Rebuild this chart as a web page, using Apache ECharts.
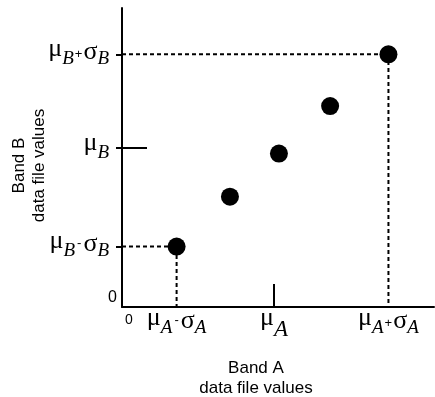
<!DOCTYPE html>
<html>
<head>
<meta charset="utf-8">
<script src="https://cdn.jsdelivr.net/npm/echarts@6/dist/echarts.min.js"></script>
<style>
html,body{margin:0;padding:0;background:#fff;}
#chart{width:435px;height:397px;}
</style>
</head>
<body>
<div id="chart"></div>
<script>
// Data points (Band A value, Band B value)
const pointX = [17.5, 34.6, 50.3, 66.7, 85.4];
const pointY = [20.2, 36.9, 51.3, 67.2, 84.5];

// Tick positions and labels
const muA = 48.7;
const muB = 53.1;
const xTickValues = [0, pointX[0], muA, pointX[4]];
const xTickLabels = [
  '{zx|0}',
  '{m|μ}{s|A}{d|-}{g|σ}{s|A}',
  '{m|μ}{S|A}',
  '{m|μ}{s|A}{p|+}{g|σ}{s|A}'
];
const yTickValues = [0, pointY[0], muB, pointY[4]];
const yTickLabels = [
  '{zy|0}',
  '{m|μ}{s|B}{d|-}{g|σ}{e|B}',
  '{m|μ}{e|B}',
  '{m|μ}{s|B}{p|+}{g|σ}{e|B}'
];
const xTitle = 'Band A\ndata file values';
const yTitle = 'Band B\ndata file values';

const SERIF = 'Liberation Serif';
const SANS = 'Liberation Sans';

function richStyles(isY) {
  return {
    m: { fontFamily: SERIF, fontSize: 26, color: '#000', padding: [0, 0, 10, 0] },
    g: { fontFamily: SERIF, fontSize: 26, color: '#000', padding: [0, 0, 4, 0] },
    s: { fontFamily: SERIF, fontStyle: 'italic', fontSize: 19, color: '#000', padding: [9, 0, 0, 0] },
    e: { fontFamily: SERIF, fontStyle: 'italic', fontSize: 19, color: '#000', padding: [9, isY ? 8 : 0, 0, 0] },
    S: { fontFamily: SERIF, fontStyle: 'italic', fontSize: 23, color: '#000', padding: [14, 0, 0, 0] },
    p: { fontFamily: SANS, fontSize: 13, color: '#000', padding: [0, 1, 0, 1] },
    d: { fontFamily: SANS, fontSize: 13, color: '#000', padding: [0, 2, 6, 2] },
    zx: { fontFamily: SANS, fontSize: 14, color: '#000', padding: [0, 0, 6, 14] },
    zy: { fontFamily: SANS, fontSize: 16, color: '#000', padding: [0, 0, 18, 0] }
  };
}

const chart = echarts.init(document.getElementById('chart'), null, { renderer: 'canvas' });

const dashStyle = { color: '#000', width: 2, type: [4, 3] };

const option = {
  animation: false,
  backgroundColor: '#fff',
  grid: { left: 122, right: 1, top: 8, bottom: 90, containLabel: false, outerBoundsMode: 'none' },
  xAxis: {
    type: 'value', min: 0, max: 100,
    splitLine: { show: false },
    axisLine: { show: true, lineStyle: { color: '#000', width: 2 } },
    axisTick: { show: true, inside: true, length: 23, customValues: [muA], lineStyle: { color: '#000', width: 2 } },
    axisLabel: {
      show: true, margin: 16, verticalAlign: 'middle',
      customValues: xTickValues,
      formatter: function (v) { return xTickLabels[xTickValues.indexOf(v)]; },
      rich: richStyles(false)
    },
    name: xTitle,
    nameLocation: 'middle',
    nameGap: 51,
    nameMoveOverlap: false,
    nameTextStyle: { fontFamily: SANS, fontSize: 17, lineHeight: 20, color: '#000', padding: [0, 44, 0, 0] }
  },
  yAxis: [{
    type: 'value', min: 0, max: 100, position: 'left',
    splitLine: { show: false },
    axisLine: { show: true, lineStyle: { color: '#000', width: 2 } },
    axisTick: { show: true, inside: false, length: 6, customValues: [pointY[0], muB, pointY[4]], lineStyle: { color: '#000', width: 2 } },
    axisLabel: {
      show: true, margin: 5,
      customValues: yTickValues,
      formatter: function (v) { return yTickLabels[yTickValues.indexOf(v)]; },
      rich: richStyles(true)
    },
    name: yTitle,
    nameLocation: 'middle',
    nameRotate: 90,
    nameGap: 73,
    nameMoveOverlap: false,
    nameTextStyle: { fontFamily: SANS, fontSize: 17, lineHeight: 20, color: '#000', padding: [0, 16, 0, 0] }
  }, {
    type: 'value', min: 0, max: 100, position: 'left', offset: 0,
    splitLine: { show: false },
    axisLine: { show: false },
    axisTick: { show: true, inside: true, length: 25, customValues: [muB], lineStyle: { color: '#000', width: 2 } },
    axisLabel: { show: false }
  }],
  series: [
    {
      type: 'line', symbol: 'none', silent: true, z: 1,
      lineStyle: dashStyle,
      data: [[0, pointY[4]], [pointX[4], pointY[4]], [pointX[4], 0]]
    },
    {
      type: 'line', symbol: 'none', silent: true, z: 1,
      lineStyle: dashStyle,
      data: [[0, pointY[0]], [pointX[0], pointY[0]], [pointX[0], 0]]
    },
    {
      type: 'scatter', z: 3,
      symbol: 'circle', symbolSize: 18,
      itemStyle: { color: '#000', opacity: 1 },
      data: pointX.map(function (x, i) { return [x, pointY[i]]; })
    }
  ]
};
chart.setOption(option);
</script>
</body>
</html>
